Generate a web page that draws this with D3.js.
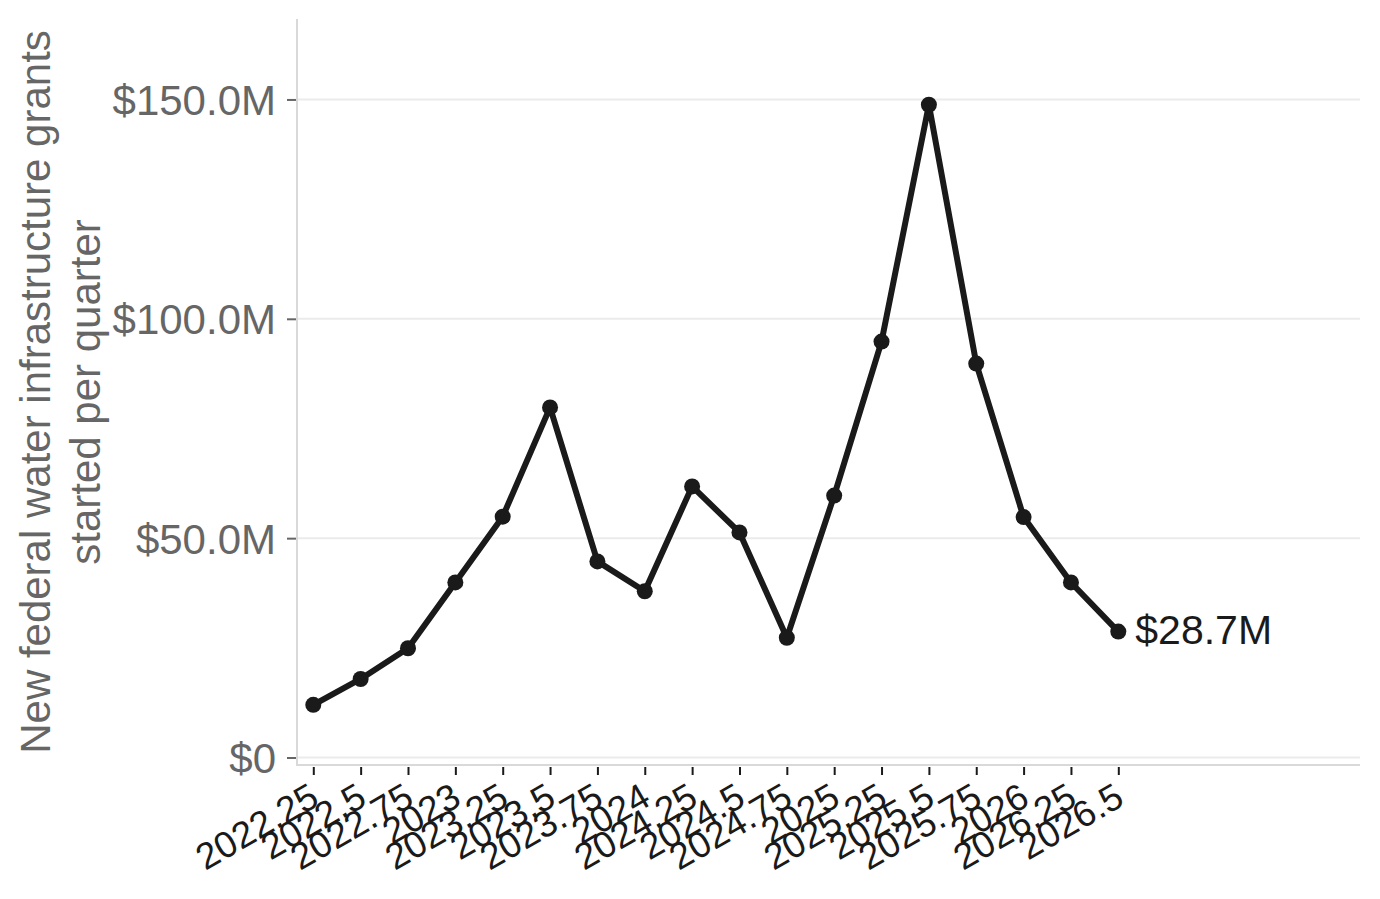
<!DOCTYPE html>
<html>
<head>
<meta charset="utf-8">
<script src="https://cdn.jsdelivr.net/npm/d3@7"></script>
<style>
	body { margin: 0; background: #fff; }
	svg { display: block; font-family: "Liberation Sans", Arial, Helvetica, sans-serif; }
</style>
</head>
<body>
<svg id="chart" width="1380" height="899"></svg>
<script>
// quarter (decimal year) and grant amount in $M
const quarters = [2022.25, 2022.5, 2022.75, 2023, 2023.25, 2023.5, 2023.75, 2024, 2024.25,
	2024.5, 2024.75, 2025, 2025.25, 2025.5, 2025.75, 2026, 2026.25, 2026.5];
const grants = [12.0, 17.9, 24.9, 39.9, 54.9, 79.8, 44.7, 37.9, 61.8,
	51.3, 27.3, 59.7, 94.8, 148.8, 89.8, 54.8, 39.9, 28.7];
const yTicks = [0, 50, 100, 150];
const yTitle = ["New federal water infrastructure grants", "started per quarter"];
const endLabel = "$28.7M";

const data = quarters.map((q, i) => ({ q: q, v: grants[i] }));

const svg = d3.select("#chart");

const panel = { left: 297, right: 1360, top: 19, bottom: 765 };

const x = d3.scaleLinear()
	.domain([2022.164, 2027.776])
	.range([panel.left, panel.right]);

const y = d3.scaleLinear()
	.domain([-1.71, 168.34])
	.range([panel.bottom, panel.top]);

// gridlines
svg.append("g")
	.selectAll("line")
	.data(yTicks)
	.enter()
	.append("line")
	.attr("x1", panel.left)
	.attr("x2", panel.right)
	.attr("y1", d => y(d))
	.attr("y2", d => y(d))
	.attr("stroke", "#ebebeb")
	.attr("stroke-width", 2);

// panel border, left and bottom only
svg.append("path")
	.attr("d", `M${panel.left},${panel.top}V${panel.bottom}H${panel.right}`)
	.attr("fill", "none")
	.attr("stroke", "#d9d9d9")
	.attr("stroke-width", 2);

// y axis
const yAxis = svg.append("g")
	.attr("transform", `translate(${panel.left - 1},0)`)
	.call(d3.axisLeft(y)
		.tickValues(yTicks)
		.tickSize(9)
		.tickPadding(11)
		.tickFormat(d => d === 0 ? "$0" : "$" + d.toFixed(1) + "M"));

yAxis.select(".domain").remove();
yAxis.attr("font-family", null).attr("font-size", null);
yAxis.selectAll(".tick line").attr("stroke", "#666").attr("stroke-width", 2);
yAxis.selectAll(".tick text")
	.attr("fill", "#666")
	.attr("font-size", 42)
	.attr("dy", "0.36em");

// x axis
const xAxis = svg.append("g")
	.attr("transform", `translate(0,${panel.bottom + 2})`)
	.call(d3.axisBottom(x)
		.tickValues(quarters)
		.tickSize(8)
		.tickFormat(d => String(d)));

xAxis.select(".domain").remove();
xAxis.attr("font-family", null).attr("font-size", null);
xAxis.selectAll(".tick line").attr("stroke", "#1a1a1a").attr("stroke-width", 2);
xAxis.selectAll(".tick text")
	.attr("fill", "#1a1a1a")
	.attr("font-size", 37)
	.attr("text-anchor", "end")
	.attr("y", 0)
	.attr("dy", "0.72em")
	.attr("transform", "translate(-6,14) rotate(-30)");

// y title
svg.append("g")
	.selectAll("text")
	.data(yTitle)
	.enter()
	.append("text")
	.attr("transform", (d, i) => `translate(${50 + i * 50},${(panel.top + panel.bottom) / 2}) rotate(-90)`)
	.attr("text-anchor", "middle")
	.attr("fill", "#666")
	.attr("font-size", 42)
	.text(d => d);

// line + points
const line = d3.line()
	.x(d => x(d.q))
	.y(d => y(d.v));

svg.append("path")
	.datum(data)
	.attr("d", line)
	.attr("fill", "none")
	.attr("stroke", "#1a1a1a")
	.attr("stroke-width", 6)
	.attr("stroke-linejoin", "round");

svg.append("g")
	.selectAll("circle")
	.data(data)
	.enter()
	.append("circle")
	.attr("cx", d => x(d.q))
	.attr("cy", d => y(d.v))
	.attr("r", 8)
	.attr("fill", "#1a1a1a");

// end label
const last = data[data.length - 1];
svg.append("text")
	.attr("x", x(last.q) + 17)
	.attr("y", y(last.v))
	.attr("dy", "0.3em")
	.attr("fill", "#1a1a1a")
	.attr("font-size", 41)
	.text(endLabel);
</script>
</body>
</html>
